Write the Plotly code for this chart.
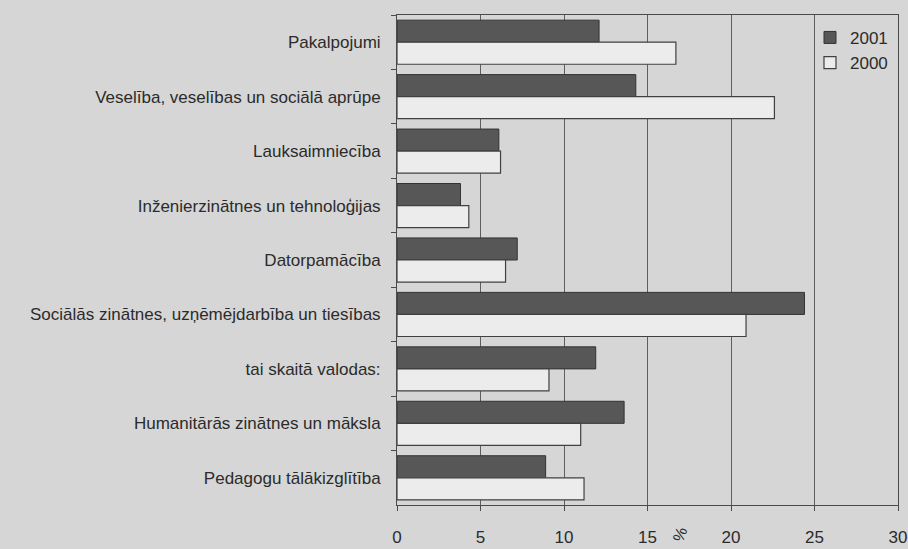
import plotly.graph_objects as go

# Study programme fields, listed top to bottom
categories = [
    "Pakalpojumi",
    "Veselība, veselības un sociālā aprūpe",
    "Lauksaimniecība",
    "Inženierzinātnes un tehnoloģijas",
    "Datorpamācība",
    "Sociālās zinātnes, uzņēmējdarbība un tiesības",
    "tai skaitā valodas:",
    "Humanitārās zinātnes un māksla",
    "Pedagogu tālākizglītība",
]

# Share of students, %
values_2001 = [12.1, 14.3, 6.1, 3.8, 7.2, 24.4, 11.9, 13.6, 8.9]
values_2000 = [16.7, 22.6, 6.2, 4.3, 6.5, 20.9, 9.1, 11.0, 11.2]

x_ticks = [0, 5, 10, 15, 20, 25, 30]

paper_bg = "#d6d6d6"
ink = "#2b2b2b"

fig = go.Figure()
fig.add_trace(go.Bar(
    y=categories, x=values_2001, name="2001", orientation="h",
    marker=dict(color="#575757", line=dict(color="#333333", width=1)),
))
fig.add_trace(go.Bar(
    y=categories, x=values_2000, name="2000", orientation="h",
    marker=dict(color="#ececec", line=dict(color="#404040", width=1.2)),
))

fig.update_layout(
    width=908, height=549,
    margin=dict(l=397, r=10, t=15, b=44),
    paper_bgcolor=paper_bg, plot_bgcolor=paper_bg,
    barmode="group", bargap=0.19, bargroupgap=0,
    font=dict(family="Liberation Sans, Arial, sans-serif", size=17, color=ink),
    showlegend=True,
    legend=dict(
        x=0.99, y=0.99, xanchor="right", yanchor="top",
        bgcolor="rgba(0,0,0,0)", borderwidth=0,
        font=dict(size=17, color=ink), itemwidth=30,
        tracegroupgap=0,
    ),
    xaxis=dict(
        range=[0, 30], tickvals=x_ticks, ticktext=[str(v) for v in x_ticks],
        showgrid=True, gridcolor="#5e5e5e", gridwidth=1,
        showline=True, linecolor="#4a4a4a", linewidth=1, mirror=True,
        ticks="outside", ticklen=5, tickcolor="#4a4a4a", ticklabelstandoff=12,
        tickfont=dict(size=17, color=ink), zeroline=False, automargin=False,
    ),
    yaxis=dict(
        autorange="reversed", type="category",
        showline=True, linecolor="#4a4a4a", linewidth=1, mirror=True,
        ticks="outside", ticklen=5, tickcolor="#4a4a4a", tickson="boundaries",
        ticklabelstandoff=12, tickfont=dict(size=17, color=ink),
        showgrid=False, automargin=False,
    ),
)

fig.add_annotation(
    text="%", xref="paper", yref="paper", x=(680 - 397) / 501, y=-0.06,
    xanchor="center", yanchor="middle", showarrow=False, textangle=-70,
    font=dict(size=16, color=ink),
)

fig.write_html("out.html")
